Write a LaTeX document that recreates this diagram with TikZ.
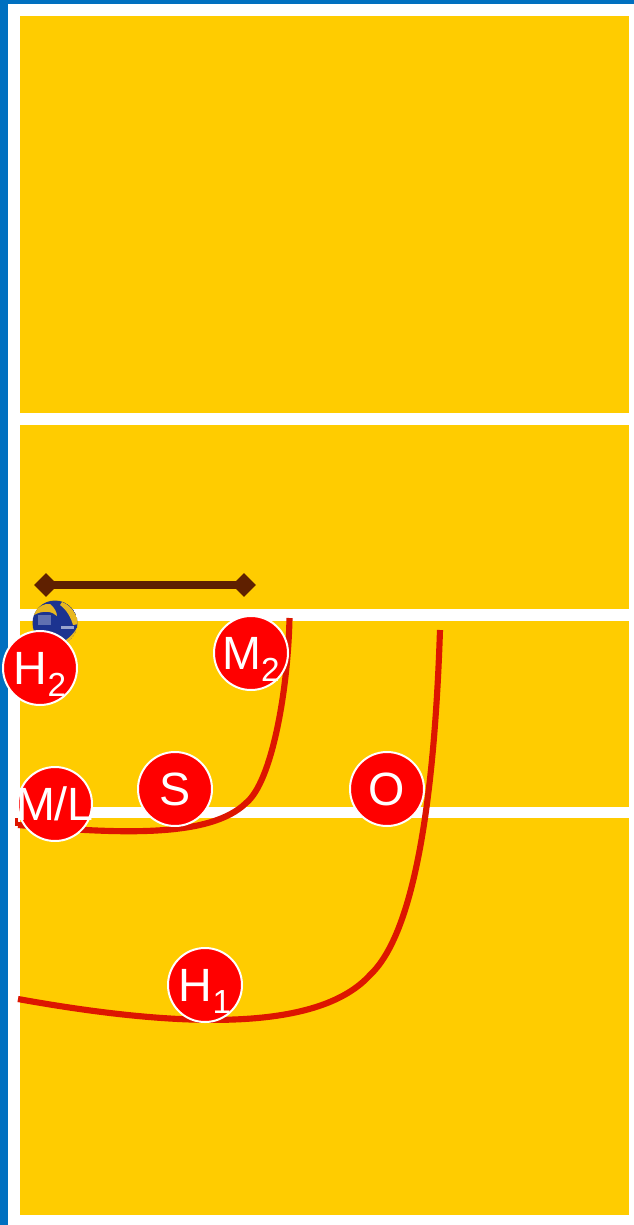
\documentclass[tikz,border=0pt]{standalone}
\usepackage{fontspec}
\setmainfont{Liberation Sans}
\usetikzlibrary{shapes.geometric}
\definecolor{court}{HTML}{FFCC00}
\definecolor{edgeblue}{HTML}{0070C0}
\definecolor{netbrown}{HTML}{5F2000}
\definecolor{runred}{HTML}{DD1500}
\definecolor{playerred}{HTML}{FF0000}
\definecolor{ballblue}{HTML}{1C3390}
\definecolor{ballyellow}{HTML}{E8B820}
\tikzset{
  x=0.75pt,y=-0.75pt,
  zone/.style={fill=court,draw=none},
  run/.style={draw=runred,line width=4.6pt,line cap=butt},
  tick/.style={draw=runred,line width=1.8pt},
  player/.style={circle,fill=playerred,draw=white,line width=1.5pt,minimum size=55.5pt,inner sep=0pt,text=white,
    font=\fontsize{35}{35}\selectfont,text height=25pt,text depth=0pt,align=center},
  nettip/.style={diamond,fill=netbrown,draw=none,minimum size=18pt,inner sep=0pt},
  net/.style={draw=netbrown,line width=6pt},
}
\newcommand{\lowsub}[1]{\smash{\raisebox{-8.5pt}{\fontsize{25}{25}\selectfont #1}}}
\begin{document}
\begin{tikzpicture}
\useasboundingbox (0,0) rectangle (634,1225);
\fill[white] (0,0) rectangle (634,1225);
\fill[edgeblue] (0,0) rectangle (634,4);
\fill[edgeblue] (0,0) rectangle (8,1225);
\path[zone] (20,16) rectangle (629,413);
\path[zone] (20,425) rectangle (629,609);
\path[zone] (20,621) rectangle (629,807);
\path[zone] (20,818) rectangle (629,1215);

\node[nettip] (n1) at (46,585) {};
\node[nettip] (n2) at (244,585) {};
\draw[net] (n1.center) -- (n2.center);

% ball
\begin{scope}
\clip (55,623) circle (22.5);
\fill[ballblue] (55,623) circle (22.5);
\fill[ballyellow] (34,613) .. controls (39,606) and (45,603) .. (50,604) .. controls (54,607) and (57,612) .. (57,616) .. controls (52,611) and (43,610) .. (34,615) -- cycle;
\fill[ballyellow] (62,602) .. controls (70,605) and (76,612) .. (79,624) -- (73,625) .. controls (71,618) and (67,610) .. (60,605) -- cycle;
\fill[ballyellow] (66,640) .. controls (70,637) and (74,633) .. (77,628) -- (80,650) -- (66,650) -- cycle;
\fill[ballblue!70!white] (38,615) rectangle (51,625);
\fill[ballblue!45!white] (61,626) rectangle (74,629);
\end{scope}

\coordinate (a0) at (289.5,618);
\coordinate (a1) at (246,803);
\coordinate (a2) at (18,825);
\coordinate (a3) at (16.5,818);
\coordinate (a4) at (16.5,826);
\coordinate (b0) at (440,630);
\coordinate (b1) at (370,975);
\coordinate (b2) at (18,999);
\draw[run] (a0) .. controls (288,690) and (272,782) .. (a1) .. controls (210,838) and (120,834) .. (a2);
\draw[tick] (a3) -- (a4);
\draw[run] (b0) .. controls (435,780) and (418,930) .. (b1) .. controls (320,1030) and (190,1030) .. (b2);

\node[player] (h2) at (40,668) {H\lowsub{2}};
\node[player] (m2) at (251,653) {M\lowsub{2}};
\node[player] (ml) at (55,804) {\makebox[0pt]{M/L}};
\node[player] (s) at (175,789) {S};
\node[player] (o) at (387,789) {O};
\node[player] (h1) at (205,985) {H\lowsub{1}};
\end{tikzpicture}
\end{document}
